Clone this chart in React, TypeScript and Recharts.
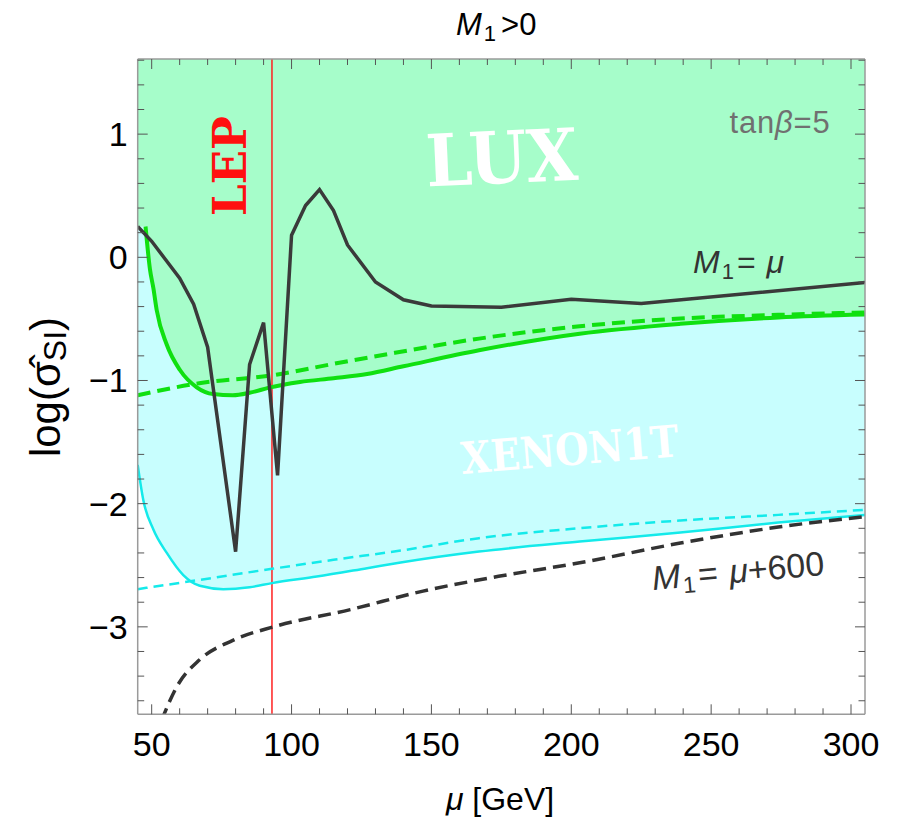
import React from 'react';
import { ComposedChart, Line, Area, XAxis, YAxis, ReferenceLine } from 'recharts';

// axis ranges
const X_MIN = 45;
const X_MAX = 305;
const Y_MIN = -3.71;
const Y_MAX = 1.61;

const xTicks = [50, 60, 70, 80, 90, 100, 110, 120, 130, 140, 150, 160, 170, 180, 190, 200, 210, 220, 230, 240, 250, 260, 270, 280, 290, 300];
const yTicks = [-3.6, -3.4, -3.2, -3, -2.8, -2.6, -2.4, -2.2, -2, -1.8, -1.6, -1.4, -1.2, -1, -0.8, -0.6, -0.4, -0.2, 0, 0.2, 0.4, 0.6, 0.8, 1, 1.2, 1.4, 1.6];
const lepMass = 93;

// LUX bound (solid green)
const luxMu = [47.8, 49.4, 50.6, 51.8, 55.4, 60.1, 66.1, 72, 79, 85, 92, 103, 115, 127, 140, 167, 203, 239, 274, 305];
const luxSigma = [0.25, -0.1, -0.25, -0.43, -0.71, -0.915, -1.055, -1.11, -1.12, -1.1, -1.058, -1.012, -0.982, -0.948, -0.885, -0.755, -0.62, -0.54, -0.488, -0.465];
// fill edge left of where the LUX curve starts
const luxFillStart = { mu: 45, sigma: 0.25 };

// LUX, dashed green
const luxDashMu = [45, 67, 93, 115, 137, 167, 203, 239, 274, 305];
const luxDashSigma = [-1.12, -1.022, -0.958, -0.865, -0.775, -0.66, -0.56, -0.497, -0.467, -0.447];

// XENON1T bound (solid cyan)
const xenonMu = [45, 47, 50.6, 55.4, 61.3, 67.2, 75.6, 85, 93, 109, 127, 139, 167, 203, 239, 274, 305];
const xenonSigma = [-1.685, -1.97, -2.21, -2.4, -2.58, -2.667, -2.694, -2.678, -2.645, -2.592, -2.524, -2.478, -2.389, -2.308, -2.235, -2.153, -2.091];

// XENON1T, dashed cyan
const xenonDashMu = [45, 67, 93, 115, 139, 167, 203, 239, 274, 305];
const xenonDashSigma = [-2.694, -2.619, -2.529, -2.456, -2.381, -2.28, -2.199, -2.137, -2.091, -2.05];

// M1 = mu (solid dark)
const m1Mu = [45, 50, 55, 60, 65, 70, 80, 85, 90, 95, 100, 105, 110, 115, 120, 130, 140, 150, 175, 200, 225, 305];
const m1Sigma = [0.25, 0.13, -0.02, -0.17, -0.38, -0.73, -2.39, -0.87, -0.53, -1.77, 0.18, 0.42, 0.55, 0.38, 0.1, -0.2, -0.345, -0.395, -0.405, -0.34, -0.375, -0.205];

// M1 = mu + 600 (dashed dark)
const m1600Mu = [53.5, 59, 67, 79, 93.5, 121, 147, 174, 203, 239, 274, 305];
const m1600Sigma = [-3.76, -3.485, -3.27, -3.11, -3.0, -2.86, -2.71, -2.59, -2.48, -2.32, -2.19, -2.105];

const rows = (xs: number[], ys: number[]) => xs.map((x, i) => ({ x, y: ys[i] }));

const luxData = rows(luxMu, luxSigma);
const luxFill = [{ x: luxFillStart.mu, y: luxFillStart.sigma }, ...luxData];
const luxDashData = rows(luxDashMu, luxDashSigma);
const xenonData = rows(xenonMu, xenonSigma);
const xenonDashData = rows(xenonDashMu, xenonDashSigma);
const m1Data = rows(m1Mu, m1Sigma);
const m1600Data = rows(m1600Mu, m1600Sigma);

const FONT = '"Liberation Sans", Arial, sans-serif';
const SLAB = '"DejaVu Serif", "Liberation Serif", serif';
const TICK = '#555';

const isMajorX = (v: number) => v % 50 === 0;
const isMajorY = (v: number) => Math.abs(v - Math.round(v)) < 1e-6;
const fmtY = (v: number) => (Math.round(v) < 0 ? '\u2212' + Math.abs(Math.round(v)) : String(Math.round(v)));

function BottomTick({ x, y, payload }: any) {
  const major = isMajorX(payload.value);
  return (
    <g>
      <line x1={x} x2={x} y1={y} y2={y - (major ? 10 : 6)} stroke={TICK} strokeWidth={1} />
      {major && (
        <text x={x} y={y + 42} textAnchor="middle" fontFamily={FONT} fontSize={34} fill="#000">
          {payload.value}
        </text>
      )}
    </g>
  );
}

function TopTick({ x, y, payload }: any) {
  const major = isMajorX(payload.value);
  return <line x1={x} x2={x} y1={y} y2={y + (major ? 10 : 6)} stroke={TICK} strokeWidth={1} />;
}

function LeftTick({ x, y, payload }: any) {
  const major = isMajorY(payload.value);
  return (
    <g>
      <line x1={x} x2={x + (major ? 10 : 6.5)} y1={y} y2={y} stroke={TICK} strokeWidth={1} />
      {major && (
        <text x={x - 10} y={y + 12} textAnchor="end" fontFamily={FONT} fontSize={34} fill="#000">
          {fmtY(payload.value)}
        </text>
      )}
    </g>
  );
}

function RightTick({ x, y, payload }: any) {
  const major = isMajorY(payload.value);
  return <line x1={x} x2={x - (major ? 10 : 6.5)} y1={y} y2={y} stroke={TICK} strokeWidth={1} />;
}

const axisLine = { stroke: '#9a9a9a', strokeWidth: 1.5 };

export default function App() {
  return (
    <div style={{ position: 'absolute', left: 0, top: 0, width: 899, height: 830, background: '#fff' }}>
      <ComposedChart
        width={899}
        height={830}
        margin={{ top: 49, right: 24, bottom: 55.7, left: 77.7 }}
      >
        <XAxis
          xAxisId="b"
          type="number"
          dataKey="x"
          domain={[X_MIN, X_MAX]}
          allowDataOverflow
          ticks={xTicks}
          interval={0}
          height={60}
          tickSize={0}
          tickMargin={0}
          tickLine={false}
          axisLine={axisLine}
          tick={<BottomTick />}
        />
        <XAxis
          xAxisId="t"
          orientation="top"
          type="number"
          dataKey="x"
          domain={[X_MIN, X_MAX]}
          allowDataOverflow
          ticks={xTicks}
          interval={0}
          height={10}
          tickSize={0}
          tickMargin={0}
          tickLine={false}
          axisLine={axisLine}
          tick={<TopTick />}
        />
        <YAxis
          yAxisId="l"
          type="number"
          domain={[Y_MIN, Y_MAX]}
          allowDataOverflow
          ticks={yTicks}
          interval={0}
          width={60}
          tickSize={0}
          tickMargin={0}
          tickLine={false}
          axisLine={axisLine}
          tick={<LeftTick />}
        />
        <YAxis
          yAxisId="r"
          orientation="right"
          type="number"
          domain={[Y_MIN, Y_MAX]}
          allowDataOverflow
          ticks={yTicks}
          interval={0}
          width={10}
          tickSize={0}
          tickMargin={0}
          tickLine={false}
          axisLine={axisLine}
          tick={<RightTick />}
        />

        <Area
          xAxisId="b"
          yAxisId="l"
          data={xenonData}
          dataKey="y"
          type="monotone"
          baseValue={Y_MAX}
          stroke="none"
          fill="#c8fefe"
          fillOpacity={1}
          isAnimationActive={false}
        />
        <Area
          xAxisId="b"
          yAxisId="l"
          data={luxFill}
          dataKey="y"
          type="monotone"
          baseValue={Y_MAX}
          stroke="none"
          fill="#a6fdca"
          fillOpacity={1}
          isAnimationActive={false}
        />

        <ReferenceLine xAxisId="b" yAxisId="l" x={lepMass} stroke="#ff2020" strokeWidth={1.5} />

        <Line xAxisId="b" yAxisId="l" data={xenonDashData} dataKey="y" type="monotone" stroke="#14eaea" strokeWidth={2.5} strokeDasharray="10 6" dot={false} isAnimationActive={false} />
        <Line xAxisId="b" yAxisId="l" data={xenonData} dataKey="y" type="monotone" stroke="#14eaea" strokeWidth={2.5} dot={false} isAnimationActive={false} />
        <Line xAxisId="b" yAxisId="l" data={luxDashData} dataKey="y" type="monotone" stroke="#10e010" strokeWidth={4} strokeDasharray="13 7" dot={false} isAnimationActive={false} />
        <Line xAxisId="b" yAxisId="l" data={luxData} dataKey="y" type="monotone" stroke="#10e010" strokeWidth={4} dot={false} isAnimationActive={false} />
        <Line xAxisId="b" yAxisId="l" data={m1600Data} dataKey="y" type="monotone" stroke="#333" strokeWidth={3.5} strokeDasharray="13 7" dot={false} isAnimationActive={false} />
        <Line xAxisId="b" yAxisId="l" data={m1Data} dataKey="y" type="linear" stroke="#3a3a3a" strokeWidth={3.5} dot={false} isAnimationActive={false} />
      </ComposedChart>

      <svg width={899} height={830} style={{ position: 'absolute', left: 0, top: 0, pointerEvents: 'none' }}>
        <text x={456} y={35} fontFamily={FONT} fontSize={31} fill="#000">
          <tspan fontStyle="italic">M</tspan>
          <tspan fontSize={22} dx={2} dy={6}>1</tspan>
          <tspan dx={5} dy={-6}>&gt;0</tspan>
        </text>

        <text transform="translate(60,387) rotate(-90)" textAnchor="middle" fontFamily={FONT} fontSize={42} fill="#000">
          log(σ̂<tspan fontSize={32} dy={6}>SI</tspan>
          <tspan dy={-6}>)</tspan>
        </text>

        <text x={500} y={810} textAnchor="middle" fontFamily={FONT} fontSize={32} fill="#000">
          <tspan fontStyle="italic">μ</tspan> [GeV]
        </text>

        <text transform="translate(503,183) rotate(-2.6)" textAnchor="middle" fontFamily={SLAB} fontWeight="bold" fontSize={72} fill="#fff" textLength={152} lengthAdjust="spacingAndGlyphs">
          LUX
        </text>
        <text transform="translate(571,465) rotate(-4.7)" textAnchor="middle" fontFamily={SLAB} fontWeight="bold" fontSize={44} fill="#fff" textLength={218} lengthAdjust="spacingAndGlyphs">
          XENON1T
        </text>
        <text transform="translate(246,166) rotate(-90)" textAnchor="middle" fontFamily={SLAB} fontWeight="bold" fontSize={46} fill="#ff1010" textLength={100} lengthAdjust="spacingAndGlyphs">
          LEP
        </text>

        <text x={780} y={133} textAnchor="middle" fontFamily={FONT} fontSize={31} fill="#707070" letterSpacing={0.8}>
          tan<tspan fontStyle="italic">β</tspan>=5
        </text>

        <text x={693} y={273} fontFamily={FONT} fontSize={32} fill="#333">
          <tspan fontStyle="italic">M</tspan>
          <tspan fontSize={22} dx={2} dy={6}>1</tspan>
          <tspan dx={3} dy={-6}>= </tspan>
          <tspan fontStyle="italic" dx={2}>μ</tspan>
        </text>

        <text transform="translate(653,590) rotate(-5)" fontFamily={FONT} fontSize={34} fill="#333">
          <tspan fontStyle="italic">M</tspan>
          <tspan fontSize={23} dx={2} dy={6}>1</tspan>
          <tspan dx={3} dy={-6}>= </tspan>
          <tspan fontStyle="italic" dx={2}>μ</tspan>+600
        </text>
      </svg>
    </div>
  );
}
